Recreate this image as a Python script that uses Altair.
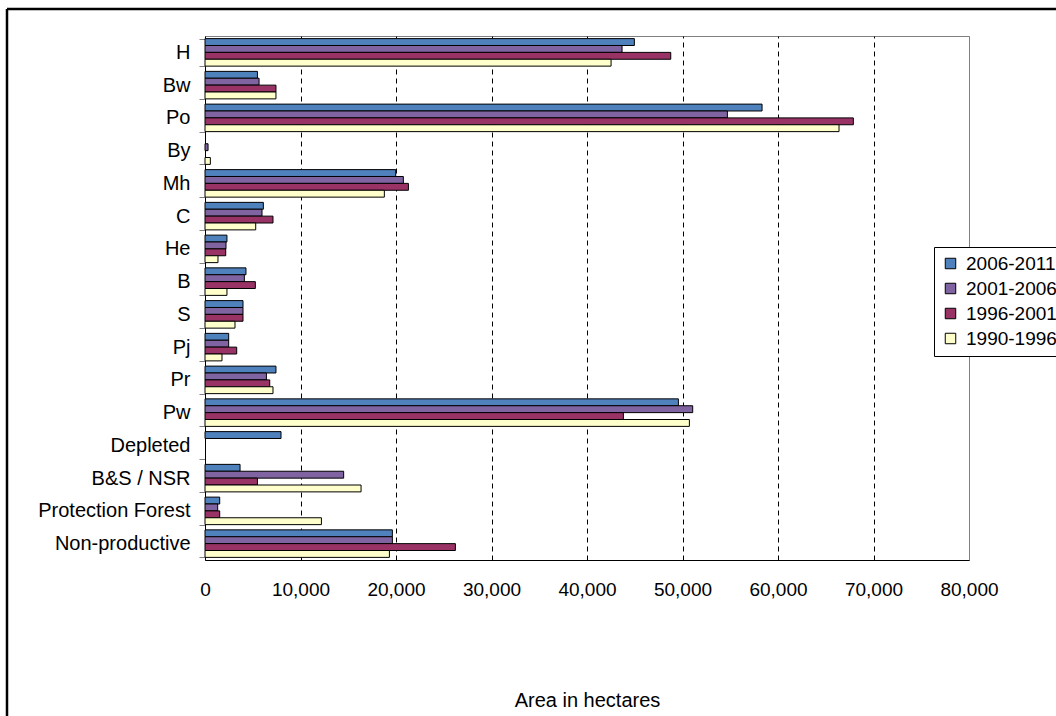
import altair as alt
import pandas as pd

categories = ["H", "Bw", "Po", "By", "Mh", "C", "He", "B", "S", "Pj", "Pr", "Pw",
              "Depleted", "B&S / NSR", "Protection Forest", "Non-productive"]
periods = ["2006-2011", "2001-2006", "1996-2001", "1990-1996"]
colors = ["#4F81BD", "#8064A2", "#993366", "#FFFFCC"]

s_2006_2011 = [44960, 5490, 58330, 0, 19970, 6110, 2300, 4290, 3980, 2480, 7430, 49570, 7960, 3670, 1540, 19620]
s_2001_2006 = [43670, 5660, 54700, 320, 20770, 5970, 2200, 4120, 3980, 2480, 6430, 51070, 0, 14520, 1330, 19620]
s_1996_2001 = [48770, 7430, 67890, 0, 21300, 7120, 2170, 5270, 3980, 3320, 6780, 43810, 0, 5490, 1540, 26220]
s_1990_1996 = [42520, 7430, 66390, 560, 18780, 5310, 1360, 2300, 3140, 1780, 7120, 50720, 0, 16340, 12190, 19310]

series = [s_2006_2011, s_2001_2006, s_1996_2001, s_1990_1996]
rows = []
for p, vals in zip(periods, series):
    for c, v in zip(categories, vals):
        rows.append({"category": c, "period": p, "value": v})
df = pd.DataFrame(rows)

FONT = "Liberation Sans"

bars = alt.Chart(df).transform_filter("datum.value > 0").mark_bar(
    stroke="black", strokeWidth=1
).encode(
    x=alt.X("value:Q",
            scale=alt.Scale(domain=[0, 80000], nice=False),
            axis=alt.Axis(
                values=[0, 10000, 20000, 30000, 40000, 50000, 60000, 70000, 80000],
                format=",d", ticks=False, labelPadding=20, labelFlush=False,
                labelFontSize=19, labelFont=FONT, labelColor="black",
                domainColor="black", domainWidth=1,
                grid=True,
                gridColor={"condition": {"test": "datum.value === 80000 || datum.value === 0", "value": "#808080"}, "value": "black"},
                gridDash={"condition": {"test": "datum.value === 80000 || datum.value === 0", "value": []}, "value": [5, 4]},
                gridWidth=1,
                title="Area in hectares", titleFontSize=20, titleFont=FONT,
                titleFontWeight="normal", titleColor="black",
                titleY=140, titleBaseline="middle",
            )),
    y=alt.Y("category:N", sort=categories,
            scale=alt.Scale(paddingInner=0.16, paddingOuter=0.08),
            axis=alt.Axis(title=None, tickBand="extent", tickSize=6, tickColor="#808080",
                          labelPadding=9, labelFontSize=20, labelFont=FONT, labelColor="black",
                          domainColor="black", domainWidth=1, grid=False)),
    yOffset=alt.YOffset("period:N", sort=periods, scale=alt.Scale(paddingInner=0, paddingOuter=0)),
    color=alt.Color("period:N",
                    scale=alt.Scale(domain=periods, range=colors),
                    legend=alt.Legend(
                        title=None, orient="none", legendX=729, legendY=211,
                        symbolType="square", symbolSize=110, symbolStrokeColor="black",
                        symbolStrokeWidth=1, symbolOpacity=1,
                        labelFontSize=19, labelFont=FONT, labelColor="black", labelOffset=6,
                        rowPadding=5, padding=7, strokeColor="black", fillColor="white",
                    )),
)

frame_data = alt.Data(values=[{}])
frame_top = alt.Chart(frame_data).mark_rule(color="black", strokeWidth=2.5).encode(
    x=alt.value(-198), x2=alt.value(900), y=alt.value(-27)
)
frame_left = alt.Chart(frame_data).mark_rule(color="black", strokeWidth=2.5).encode(
    x=alt.value(-198), y=alt.value(-27), y2=alt.value(700)
)

chart = alt.layer(bars, frame_top, frame_left).properties(
    width=764, height=524,
    autosize=alt.AutoSizeParams(type="none"),
    padding={"left": 205, "top": 36, "right": 87, "bottom": 156},
    background="white",
).configure_view(stroke="#808080", strokeWidth=1)

chart.save("out.html", embed_options={"renderer": "svg", "actions": False})
